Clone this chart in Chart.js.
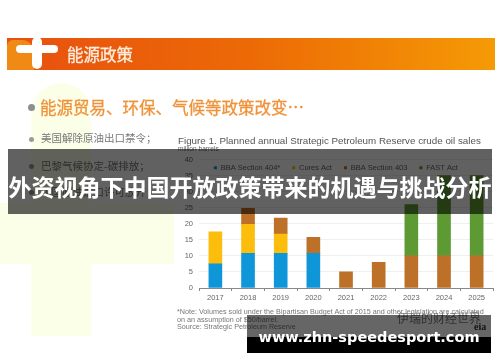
<!DOCTYPE html>
<html>
<head>
<meta charset="utf-8">
<style>
html, body { margin: 0; padding: 0; background: #fff; }
#page { position: relative; width: 500px; height: 362px; overflow: hidden; background: #fff; }
#page div { position: absolute; white-space: nowrap; }
#slide { left: 0; top: 0; width: 500px; height: 362px; filter: blur(0.6px); }
#chart { position: absolute; left: 0; top: 0; }
.cjk { font-family: "Noto Sans CJK SC", sans-serif; }
</style>
</head>
<body>
<div id="page">
  <div id="slide">
    <!-- fond jaune pale -->
    <div style="left:31px;top:83px;width:60px;height:253px;background:#fcffe8;border-radius:30px 30px 0 0"></div>
    <div style="left:0;top:203px;width:174px;height:61px;background:#fcffe8"></div>
    <!-- bandeau -->
    <div style="left:7px;top:38px;width:488px;height:32px;background:linear-gradient(90deg,#e8500f,#ec6a06 50%,#f59a05)"></div>
    <div style="left:7px;top:40px;width:27px;height:30px;background:#f08a14;border-radius:6px 12px 0 0"></div>
    <div style="left:16px;top:45px;width:42px;height:8px;background:#fff;border-radius:4px"></div>
    <div style="left:32px;top:37px;width:10px;height:32px;background:#fff;border-radius:5px"></div>
    <div class="cjk" style="left:67px;top:44px;font-size:16.5px;line-height:20px;color:#fdeee0;-webkit-text-stroke:0.3px #fdeee0">能源政策</div>
    <div style="left:28px;top:104px;width:7px;height:7px;border-radius:50%;background:#8a8f90"></div>
    <div class="cjk" style="left:40px;top:95px;font-size:16.5px;line-height:24px;color:#f0923a;-webkit-text-stroke:0.3px #f0923a">能源贸易、环保、气候等政策改变…</div>
    <div style="left:29px;top:137px;width:5px;height:5px;border-radius:50%;background:#9a9a9a"></div>
    <div class="cjk" style="left:41px;top:129px;font-size:10.5px;line-height:18px;color:#777">美国解除原油出口禁令；</div>
    <div style="left:29px;top:164px;width:5px;height:5px;border-radius:50%;background:#9a9a9a"></div>
    <div class="cjk" style="left:41px;top:157px;font-size:10.5px;line-height:18px;color:#777">巴黎气候协定-碳排放；</div>
    <div style="left:29px;top:190px;width:5px;height:5px;border-radius:50%;background:#9a9a9a"></div>
    <div class="cjk" style="left:41px;top:183px;font-size:10.5px;line-height:18px;color:#777">中国原油进口许可放开；</div>
    <div style="left:178px;top:134.5px;font:9.8px/11px 'Liberation Sans';color:#555">Figure 1. Planned annual Strategic Petroleum Reserve crude oil sales</div>
    <div style="left:178px;top:145px;font:6.6px/8px 'Liberation Sans';color:#666">million barrels</div>
    <div style="left:177px;top:308px;font:7.2px/7.5px 'Liberation Sans';color:#777;white-space:pre">*Note: Volumes sold under the Bipartisan Budget Act of 2015 and other legislation are calculated
on an assumption of $50/barrel.
Source: Strategic Petroleum Reserve</div>
    <div class="cjk" style="left:397px;top:310px;font-size:12px;line-height:16px;color:#777">伊瑞的财经世界</div>
    <div style="left:474px;top:321px;font:bold 10px/12px 'Liberation Serif';color:#333">eia</div>
    <canvas id="chart" width="500" height="362"></canvas>
  </div>
  <!-- bandes par dessus -->
  <div style="left:8px;top:149px;width:484px;height:65px;background:rgba(0,0,0,0.62)"></div>
  <div class="cjk" style="left:8px;top:149px;width:484px;height:65px;line-height:74px;text-align:center;font-size:23px;font-weight:700;color:#fff">外资视角下中国开放政策带来的机遇与挑战分析</div>
  <div style="left:247px;top:315px;width:244px;height:22px;background:rgba(0,0,0,0.6)"></div>
  <div style="left:247px;top:337px;width:244px;height:16px;background:#000"></div>
  <div style="left:247px;top:325px;width:244px;line-height:24px;text-align:center;font-family:'DejaVu Sans';font-size:14.5px;font-weight:700;color:#fff">www.zhn-speedesport.com</div>
</div>
<script src="https://cdn.jsdelivr.net/npm/chart.js@4"></script>
<script>
// donnees
const years = ['2017', '2018', '2019', '2020', '2021', '2022', '2023', '2024', '2025'];
const bba404 = [7.5, 10.8, 10.8, 10.8, null, null, null, null, null];
const cures = [10, 9, 6, null, null, null, null, null, null];
const bba403 = [null, 5, 5, 5, 5, 8, 10, 10, 10];
const fast = [null, null, null, null, null, null, 16, 25, 25];

// la legende est dans la zone du graphique, on la descend
const moveLegend = {
  id: 'moveLegend',
  afterLayout(chart) {
    const h = chart.legend.bottom - chart.legend.top;
    chart.legend.top = 152;
    chart.legend.bottom = 152 + h;
  }
};

const chart = new Chart(document.getElementById('chart').getContext('2d'), {
  type: 'bar',
  data: {
    labels: years,
    datasets: [
      { label: 'BBA Section 404*', data: bba404, backgroundColor: '#0f96d8' },
      { label: 'Cures Act', data: cures, backgroundColor: '#fdbd0d' },
      { label: 'BBA Section 403', data: bba403, backgroundColor: '#bd7028' },
      { label: 'FAST Act', data: fast, backgroundColor: '#5e9a33' }
    ]
  },
  plugins: [moveLegend],
  options: {
    responsive: false,
    animation: false,
    layout: { padding: { left: 178.7, right: 7, top: 130, bottom: 58 } },
    datasets: { bar: { barThickness: 13 } },
    plugins: {
      tooltip: { enabled: false },
      legend: {
        position: 'top',
        labels: {
          usePointStyle: true, pointStyle: 'rect', boxWidth: 3, boxHeight: 3, padding: 12,
          color: '#666', font: { family: 'Liberation Sans', size: 7.5 }
        }
      }
    },
    scales: {
      x: {
        stacked: true,
        border: { color: '#888' },
        grid: { drawOnChartArea: false, tickLength: 3, tickColor: '#888' },
        ticks: { color: '#666', padding: 2, maxRotation: 0, font: { family: 'Liberation Sans', size: 7.5 } }
      },
      y: {
        stacked: true,
        min: 0,
        max: 40,
        border: { display: false },
        grid: { color: '#efefef', tickLength: 0 },
        ticks: { stepSize: 5, color: '#666', padding: 6, font: { family: 'Liberation Sans', size: 7.5 } }
      }
    }
  }
});
</script>
</body>
</html>
